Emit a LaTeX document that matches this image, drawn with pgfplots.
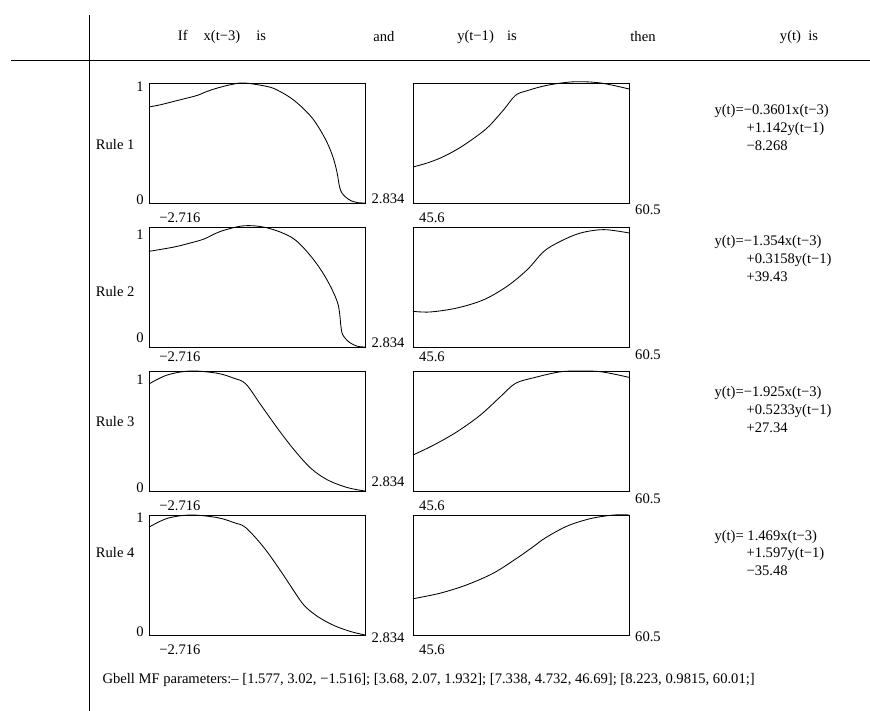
\documentclass[border=0pt]{standalone}
\usepackage{fontspec}
\setmainfont{Liberation Serif}
\usepackage{pgfplots}
\pgfplotsset{compat=1.18}
\pgfplotsset{
  mf/.style={width=216bp,height=120bp,scale only axis,ticks=none,clip=false,
    anchor=north west,ymin=0,ymax=1,axis line style={line width=0.9bp}},
  mfl/.style={mf,xmin=-2.716,xmax=2.834},
  mfr/.style={mf,xmin=45.6,xmax=60.5},
  mfp/.style={black,line width=0.85bp,no marks,smooth,tension=0.55}
}
\begin{document}
\begin{tikzpicture}[font=\fontsize{14.6bp}{17.5bp}\selectfont]
\path[use as bounding box] (0bp,0bp) rectangle (870bp,711bp);
% frame lines
\draw[line width=0.9bp] (89bp,696bp) -- (89bp,0bp);
\draw[line width=0.9bp] (11bp,651bp) -- (870bp,651bp);
% header
\node at (222bp,674bp) {If\hspace{1.1em}x(t−3)\hspace{1.1em}is};
\node at (384bp,674bp) {and};
\node at (487bp,674bp) {y(t−1)\hspace{0.9em}is};
\node at (643bp,674bp) {then};
\node at (799bp,674bp) {y(t)\hspace{0.5em}is};

% ---------- Rule 1 ----------
\begin{axis}[mfl,at={(149bp,628bp)}]
\addplot[mfp] coordinates {(-2.716,0.800)(-2.416,0.819)(-2.073,0.847)(-1.730,0.875)(-1.472,0.897)(-1.215,0.931)(-0.958,0.958)(-0.614,0.986)(-0.271,1.000)(0.372,0.967)(0.672,0.925)(0.964,0.867)(1.230,0.793)(1.479,0.708)(1.685,0.608)(1.865,0.500)(2.011,0.383)(2.113,0.258)(2.180,0.135)(2.242,0.083)(2.345,0.047)(2.474,0.019)(2.645,0.003)(2.834,0.000)};
\end{axis}
\begin{axis}[mfr,at={(413bp,628bp)}]
\addplot[mfp] coordinates {(45.6,0.300)(46.57,0.333)(47.49,0.375)(48.41,0.431)(49.33,0.500)(50.71,0.625)(51.86,0.778)(52.67,0.897)(53.48,0.936)(54.86,0.981)(56.70,1.010)(58.54,1.000)(60.5,0.950)};
\end{axis}
% ---------- Rule 2 ----------
\begin{axis}[mfl,at={(149bp,484bp)}]
\addplot[mfp] coordinates {(-2.716,0.797)(-2.073,0.833)(-1.687,0.864)(-1.301,0.900)(-0.872,0.964)(-0.271,1.010)(0.329,0.992)(0.973,0.908)(1.444,0.756)(1.830,0.575)(2.131,0.367)(2.216,0.172)(2.259,0.103)(2.431,0.039)(2.645,0.006)(2.834,0.000)};
\end{axis}
\begin{axis}[mfr,at={(413bp,484bp)}]
\addplot[mfp] coordinates {(45.6,0.297)(46.80,0.292)(48.64,0.325)(50.48,0.394)(52.09,0.506)(53.48,0.644)(54.63,0.797)(55.78,0.881)(57.16,0.950)(58.77,0.978)(60.5,0.950)};
\end{axis}
% ---------- Rule 3 ----------
\begin{axis}[mfl,at={(149bp,340bp)}]
\addplot[mfp] coordinates {(-2.716,0.892)(-2.244,0.967)(-1.644,1.000)(-0.958,0.981)(-0.529,0.939)(-0.228,0.892)(0.158,0.717)(0.587,0.522)(1.015,0.342)(1.444,0.189)(1.873,0.092)(2.388,0.028)(2.834,0.000)};
\end{axis}
\begin{axis}[mfr,at={(413bp,340bp)}]
\addplot[mfp] coordinates {(45.6,0.300)(47.03,0.383)(48.64,0.494)(50.25,0.633)(51.63,0.786)(52.67,0.897)(53.94,0.944)(55.55,0.989)(56.70,1.000)(58.54,0.994)(60.5,0.947)};
\end{axis}
% ---------- Rule 4 ----------
\begin{axis}[mfl,at={(149bp,196bp)}]
\addplot[mfp] coordinates {(-2.716,0.899)(-2.244,0.972)(-1.644,1.000)(-0.958,0.978)(-0.529,0.936)(-0.228,0.894)(0.243,0.726)(0.672,0.531)(1.015,0.363)(1.273,0.246)(1.616,0.154)(2.045,0.078)(2.474,0.028)(2.834,0.000)};
\end{axis}
\begin{axis}[mfr,at={(413bp,196bp)}]
\addplot[mfp] coordinates {(45.6,0.302)(47.49,0.349)(49.33,0.419)(51.17,0.517)(52.79,0.642)(53.94,0.740)(54.74,0.810)(56.24,0.908)(57.85,0.970)(59.46,1.000)(60.5,1.000)};
\end{axis}

% rule labels
\node[anchor=east] at (138bp,566bp) {Rule 1};
\node[anchor=east] at (138bp,419bp) {Rule 2};
\node[anchor=east] at (138bp,289bp) {Rule 3};
\node[anchor=east] at (138bp,158bp) {Rule 4};
% 1 and 0 labels
\foreach \a/\b in {624/511, 476/373, 331/223, 193/79}{
  \node at (140bp,\a bp) {1};
  \node at (140bp,\b bp) {0};
}
% 2.834
\foreach \y in {512,368,229,73}{ \node at (388bp,\y bp) {2.834}; }
% -2.716 and 45.6
\foreach \y in {493,354,205,61}{ \node at (180bp,\y bp) {−2.716}; \node at (432bp,\y bp) {45.6}; }
% 60.5
\foreach \y in {501,356,212,74}{ \node at (648bp,\y bp) {60.5}; }

% equations
\node[anchor=west] at (711bp,600bp) {y(t)=−0.3601x(t−3)};
\node[anchor=west] at (743bp,582bp) {+1.142y(t−1)};
\node[anchor=west] at (743bp,565bp) {−8.268};
\node[anchor=west] at (711bp,469bp) {y(t)=−1.354x(t−3)};
\node[anchor=west] at (743bp,451bp) {+0.3158y(t−1)};
\node[anchor=west] at (743bp,434bp) {+39.43};
\node[anchor=west] at (711bp,318bp) {y(t)=−1.925x(t−3)};
\node[anchor=west] at (743bp,300bp) {+0.5233y(t−1)};
\node[anchor=west] at (743bp,283bp) {+27.34};
\node[anchor=west] at (711bp,174bp) {y(t)= 1.469x(t−3)};
\node[anchor=west] at (743bp,157bp) {+1.597y(t−1)};
\node[anchor=west] at (743bp,140bp) {−35.48};

% bottom text
\node[anchor=west] at (99bp,31bp) {Gbell MF parameters:– [1.577, 3.02, −1.516]; [3.68, 2.07, 1.932]; [7.338, 4.732, 46.69]; [8.223, 0.9815, 60.01;]};
\end{tikzpicture}
\end{document}
